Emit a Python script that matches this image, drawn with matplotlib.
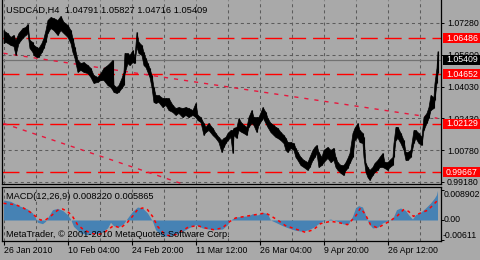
import matplotlib
matplotlib.use("Agg")
import matplotlib.pyplot as plt
import matplotlib.transforms as mtransforms
from matplotlib.patches import Rectangle

plt.rcParams['font.family'] = ['Liberation Sans', 'DejaVu Sans']
plt.rcParams['lines.scale_dashes'] = False

# USDCAD H4, sampled bars (bar number from 26 Jan 2010 00:00)
bars = [0, 2, 4, 7, 10, 12, 15, 19, 22, 24, 26, 29, 30, 33, 35, 38, 40, 42, 44, 47,
        50, 54, 57, 60, 64, 67, 69, 71, 74, 77, 80, 84, 87, 90, 94, 97, 100, 104, 107, 109,
        110, 113, 115, 118, 120, 121, 124, 126, 129, 131, 133, 135, 138, 140, 142, 144, 146, 148, 150, 152,
        155, 159, 162, 165, 169, 172, 175, 179, 182, 185, 189, 192, 194, 197, 200, 202, 205, 209, 212, 215,
        218, 220, 222, 224, 227, 229, 230, 233, 235, 238, 240, 243, 245, 248, 250, 253, 255, 258, 259, 262,
        264, 267, 270, 272, 274, 277, 280, 282, 284, 287, 290, 292, 294, 297, 300, 304, 306, 309, 311, 313,
        315, 318, 320, 324, 327, 330, 332, 334, 337, 340, 342, 344, 346, 349, 351, 354, 356, 359, 360, 362,
        364, 366, 369, 371, 374, 376, 379, 381, 384, 386, 389, 390, 392, 394, 397, 400, 402, 404, 407, 410,
        412, 415, 418, 420, 423, 425, 427, 430, 431, 433, 434]
highs = [1.0691, 1.0681, 1.0676, 1.0656, 1.0666, 1.0640, 1.0676, 1.0701, 1.0707, 1.0722, 1.0640, 1.0630, 1.0615, 1.0605, 1.0600, 1.0625, 1.0651, 1.0691, 1.0742, 1.0757,
         1.0752, 1.0742, 1.0763, 1.0732, 1.0717, 1.0691, 1.0651, 1.0605, 1.0539, 1.0523, 1.0528, 1.0513, 1.0498, 1.0462, 1.0452, 1.0472, 1.0498, 1.0513, 1.0528, 1.0539,
         1.0411, 1.0401, 1.0411, 1.0447, 1.0478, 1.0574, 1.0574, 1.0564, 1.0589, 1.0554, 1.0681, 1.0630, 1.0615, 1.0579, 1.0549, 1.0523, 1.0498, 1.0462, 1.0401, 1.0360,
         1.0360, 1.0345, 1.0345, 1.0345, 1.0310, 1.0294, 1.0299, 1.0294, 1.0299, 1.0294, 1.0284, 1.0320, 1.0259, 1.0248, 1.0218, 1.0198, 1.0218, 1.0193, 1.0167, 1.0147,
         1.0131, 1.0142, 1.0147, 1.0167, 1.0182, 1.0182, 1.0193, 1.0198, 1.0243, 1.0218, 1.0208, 1.0198, 1.0248, 1.0284, 1.0248, 1.0248, 1.0248, 1.0284, 1.0299, 1.0274,
         1.0243, 1.0218, 1.0208, 1.0198, 1.0193, 1.0172, 1.0157, 1.0142, 1.0121, 1.0121, 1.0116, 1.0091, 1.0070, 1.0045, 1.0030, 1.0019, 1.0045, 1.0081, 1.0096, 1.0106,
         1.0070, 1.0045, 1.0081, 1.0096, 1.0081, 1.0091, 1.0045, 1.0019, 1.0004, 1.0004, 1.0019, 1.0040, 1.0065, 1.0167, 1.0193, 1.0218, 1.0182, 1.0167, 1.0147, 1.0014,
         0.9994, 0.9979, 0.9994, 1.0014, 1.0030, 1.0045, 1.0065, 1.0019, 1.0019, 1.0030, 1.0045, 1.0116, 1.0198, 1.0198, 1.0167, 1.0131, 1.0070, 1.0070, 1.0081, 1.0182,
         1.0182, 1.0167, 1.0147, 1.0248, 1.0269, 1.0299, 1.0360, 1.0350, 1.0422, 1.0498, 1.05827]
lows = [1.0625, 1.0630, 1.0625, 1.0615, 1.0610, 1.0564, 1.0625, 1.0651, 1.0666, 1.0676, 1.0600, 1.0579, 1.0564, 1.0554, 1.0554, 1.0579, 1.0600, 1.0630, 1.0676, 1.0701,
        1.0691, 1.0666, 1.0691, 1.0676, 1.0656, 1.0625, 1.0579, 1.0549, 1.0478, 1.0488, 1.0478, 1.0472, 1.0452, 1.0422, 1.0427, 1.0437, 1.0437, 1.0411, 1.0401, 1.0386,
        1.0376, 1.0371, 1.0376, 1.0396, 1.0411, 1.0472, 1.0523, 1.0513, 1.0528, 1.0523, 1.0605, 1.0574, 1.0564, 1.0513, 1.0503, 1.0478, 1.0452, 1.0401, 1.0325, 1.0320,
        1.0325, 1.0299, 1.0310, 1.0284, 1.0274, 1.0259, 1.0269, 1.0248, 1.0259, 1.0248, 1.0259, 1.0248, 1.0233, 1.0223, 1.0157, 1.0172, 1.0182, 1.0157, 1.0142, 1.0121,
        1.0070, 1.0096, 1.0116, 1.0131, 1.0147, 1.0065, 1.0157, 1.0142, 1.0182, 1.0172, 1.0167, 1.0157, 1.0198, 1.0218, 1.0208, 1.0172, 1.0208, 1.0233, 1.0248, 1.0218,
        1.0198, 1.0172, 1.0157, 1.0147, 1.0142, 1.0131, 1.0116, 1.0081, 1.0070, 1.0091, 1.0081, 1.0045, 1.0030, 1.0004, 0.9994, 0.9979, 0.9994, 1.0030, 1.0045, 1.0065,
        0.9994, 1.0004, 1.0019, 1.0040, 1.0019, 1.0030, 0.9994, 0.9979, 0.9964, 0.9953, 0.9979, 0.9989, 1.0014, 1.0045, 1.0131, 1.0147, 1.0121, 1.0116, 1.0045, 0.9969,
        0.9943, 0.9928, 0.9953, 0.9969, 0.9979, 0.9994, 0.9994, 0.9989, 0.9979, 0.9994, 1.0004, 1.0045, 1.0131, 1.0142, 1.0116, 1.0081, 1.0030, 1.0030, 1.0045, 1.0116,
        1.0142, 1.0116, 1.0106, 1.0182, 1.0218, 1.0243, 1.0284, 1.0294, 1.0335, 1.0422, 1.04716]

bid = 1.05409
levels = [1.06486, 1.04652, 1.02129, 0.99667]
# two sloping lines (start bar, end bar) and prices
trend_a = ([0, 434], [1.0573, 1.0242])
trend_b = ([0, 434], [1.0216, 0.9469])

price_ticks = [1.0728, 1.0566, 1.0403, 1.0243, 1.0078, 0.9918]
price_labels = ['1.07280', '1.05600', '1.04030', '1.02430', '1.00780', '0.99180']

# MACD(12,26,9)
macd_bars = [0, 7, 12, 17, 24, 29, 32, 34, 39, 42, 45, 49, 54, 59, 64, 67, 70, 77, 84, 90,
             97, 104, 107, 110, 115, 120, 124, 129, 134, 139, 144, 149, 152, 157, 162, 172, 179, 185, 192, 199,
             205, 212, 219, 224, 227, 232, 239, 245, 249, 254, 259, 264, 267, 272, 279, 285, 292, 299, 305, 310,
             315, 320, 327, 334, 340, 345, 349, 352, 355, 359, 362, 365, 369, 374, 379, 384, 389, 393, 397, 402,
             405, 409, 412, 417, 422, 427, 431, 433, 434]
macd_main = [0.0060, 0.0056, 0.0048, 0.0041, 0.0033, 0.0021, 0.0006, -0.0007, -0.0011, -0.0004,
             0.0011, 0.0031, 0.0035, 0.0029, 0.0016, 0.0003, -0.0019, -0.0039, -0.0044, -0.0041,
             -0.0039, -0.0024, -0.0007, -0.0017, -0.0021, -0.0011, 0.0006, 0.0026, 0.0039, 0.0036,
             0.0021, -0.0004, -0.0029, -0.0044, -0.0049, -0.0044, -0.0034, -0.0024, -0.0014, -0.0024,
             -0.0027, -0.0029, -0.0027, -0.0014, 0.0000, 0.0009, 0.0011, 0.0013, 0.0019, 0.0015,
             0.0023, 0.0019, 0.0000, -0.0007, -0.0017, -0.0024, -0.0031, -0.0034, -0.0029, -0.0022,
             -0.0011, -0.0002, 0.0003, -0.0004, -0.0012, -0.0011, 0.0011, 0.0036, 0.0043, 0.0039,
             0.0016, -0.0009, -0.0024, -0.0022, -0.0009, -0.0002, 0.0003, 0.0031, 0.0036, 0.0029,
             0.0016, 0.0003, 0.0016, 0.0023, 0.0036, 0.0051, 0.0066, 0.0076, 0.0089]
sig_bars = [0, 12, 20, 27, 32, 37, 42, 47, 54, 59, 64, 69, 74, 80, 87, 94, 100, 110, 117, 124,
            129, 134, 139, 144, 149, 154, 160, 165, 172, 185, 194, 202, 210, 219, 225, 232, 242, 252, 262, 267,
            274, 282, 292, 302, 310, 317, 327, 334, 344, 352, 357, 362, 367, 374, 380, 387, 394, 400, 405, 410,
            417, 424, 430, 434]
macd_signal = [0.0050, 0.0046, 0.0036, 0.0023, 0.0011, 0.0000, 0.0000, 0.0011, 0.0029, 0.0033,
               0.0026, 0.0011, -0.0014, -0.0029, -0.0039, -0.0044, -0.0039, -0.0017, -0.0024, -0.0007,
               0.0011, 0.0031, 0.0036, 0.0031, 0.0011, -0.0019, -0.0039, -0.0047, -0.0044, -0.0021,
               -0.0017, -0.0024, -0.0029, -0.0024, -0.0007, 0.0006, 0.0011, 0.0016, 0.0021, 0.0013,
               0.0000, -0.0017, -0.0027, -0.0037, -0.0029, -0.0011, -0.0004, -0.0007, -0.0014, 0.0011,
               0.0036, 0.0016, -0.0014, -0.0024, -0.0014, -0.0002, 0.0013, 0.0031, 0.0026, 0.0011,
               0.0021, 0.0029, 0.0046, 0.0059]

date_bars = [0, 64, 128, 192, 256, 320, 384]
date_labels = ['26 Jan 2010', '10 Feb 04:00', '24 Feb 20:00', '11 Mar 12:00',
               '26 Mar 04:00', '9 Apr 20:00', '26 Apr 12:00']

bg = '#a9a9a9'
grid_col = '#5c5c5c'
W, H = 480, 260


def px_box(l, t, r, b):
    return [l / W, 1 - b / H, (r - l) / W, (b - t) / H]


fig = plt.figure(figsize=(4.8, 2.6), dpi=100, facecolor=bg)
ax = fig.add_axes(px_box(2, 0, 440.5, 183.5), facecolor=bg)
ax2 = fig.add_axes(px_box(2, 186.5, 440.5, 241), facecolor=bg, sharex=ax)

ax.set_xlim(-1.5, 437)
ax.set_ylim(0.9910, 1.0844)
ax2.set_ylim(-0.0063, 0.01005)

for a in (ax, ax2):
    for s in a.spines.values():
        s.set_color('black')
        s.set_linewidth(0.9)
    for b in range(0, 435, 32):
        a.axvline(b, color=grid_col, lw=0.75, ls=(0, (2.2, 2.2)), zorder=1)
ax.spines['top'].set_visible(False)

for p in price_ticks:
    ax.axhline(p, color=grid_col, lw=0.75, ls=(0, (2.2, 2.2)), zorder=1)

ax.axhline(bid, color='#727272', lw=0.9, zorder=1.5)
for lvl in levels:
    ax.axhline(lvl, color='#ff0000', lw=1.0, ls=(0, (12.2, 5.0)), zorder=2)
ax.plot(*trend_a, color='#e8163c', lw=1.0, ls=(0, (3, 4.3)), zorder=2)
ax.plot(*trend_b, color='#e8163c', lw=1.0, ls=(0, (3, 4.3)), zorder=2)

# price bars as a high-low band
ax.fill_between(bars, lows, highs, facecolor='black', edgecolor='black', lw=0.5, zorder=3)
ax.vlines(bars, lows, highs, color='black', lw=0.8, zorder=3)

# price scale
ax.yaxis.tick_right()
ax.set_yticks(price_ticks)
ax.set_yticklabels(price_labels)
ax.tick_params(axis='y', length=2.2, width=0.7, pad=2.5, labelsize=6.3, colors='black')
ax.tick_params(axis='x', bottom=False, labelbottom=False)

trans = mtransforms.blended_transform_factory(ax.transAxes, ax.transData)
for lvl, fc in [(l, '#ff0000') for l in levels] + [(bid, 'black')]:
    ax.add_patch(Rectangle((1.0064, lvl - 0.00255), 0.0837, 0.0051, transform=trans,
                           clip_on=False, facecolor=fc, edgecolor='none', zorder=5))
    ax.text(1.0125, lvl, f'{lvl:.5f}', transform=trans, ha='left', va='center',
            color='white', fontsize=6.3, zorder=6, clip_on=False)

# MACD window
ax2.fill_between(macd_bars, 0, macd_main, color='#4682b4', lw=0, zorder=2)
ax2.plot(sig_bars, macd_signal, color='#ff0000', lw=1.1, ls=(0, (2.2, 2.6)), zorder=3)
ax2.yaxis.tick_right()
ax2.set_yticks([0.008902, 0.0, -0.00611])
ax2.set_yticklabels([])
ax2.tick_params(axis='y', length=2.2, width=0.7)
ax2.set_xticks(date_bars)
ax2.set_xticklabels(date_labels, ha='left')
ax2.tick_params(axis='x', length=3.0, width=0.8, pad=0.8, labelsize=6.3, colors='black')

fig.text(443.5 / W, 1 - 194.7 / H, '0.008902', fontsize=6.3, va='center')
fig.text(443.5 / W, 1 - 220 / H, '0.00', fontsize=6.3, va='center')
fig.text(442.5 / W, 1 - 235.3 / H, '-0.00611', fontsize=6.3, va='center')

fig.text(6.5 / W, 1 - 10.7 / H, 'USDCAD,H4  1.04791 1.05827 1.04716 1.05409', fontsize=6.7, va='center')
fig.text(6.5 / W, 1 - 196.7 / H, 'MACD(12,26,9) 0.008220 0.005865', fontsize=6.7, va='center')
fig.text(6 / W, 1 - 234.5 / H, 'MetaTrader, \u00a9 2001-2010 MetaQuotes Software Corp.', fontsize=6.7, va='center')

fig.savefig('out.png', dpi=100, facecolor=bg)
